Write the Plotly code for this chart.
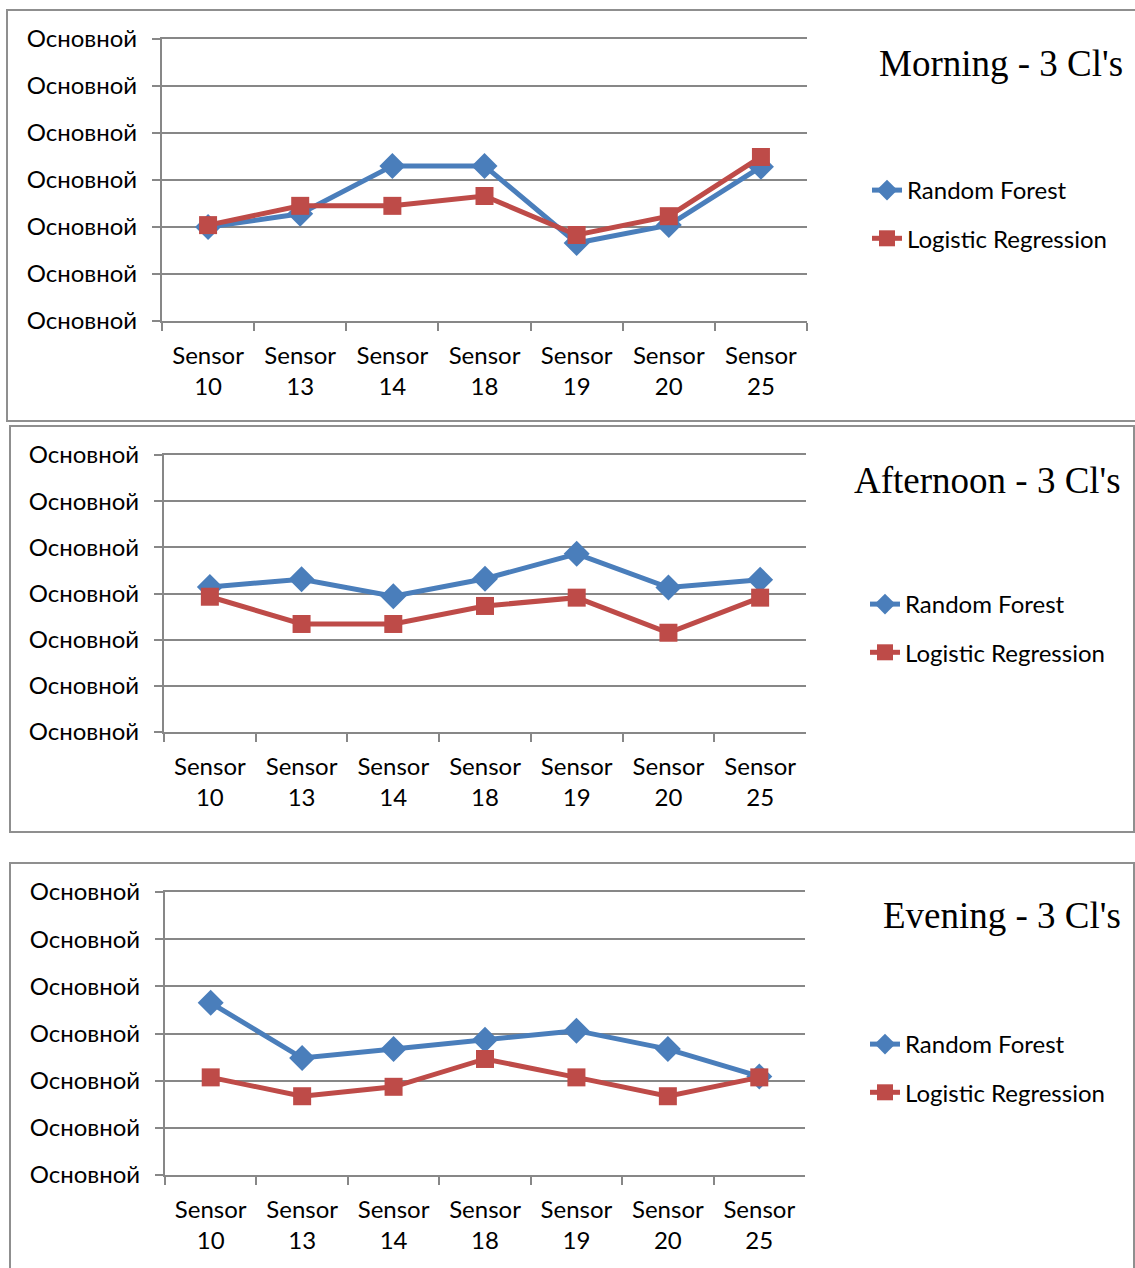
import plotly.graph_objects as go

W, H = 1135, 1268

categories = ["Sensor<br>10", "Sensor<br>13", "Sensor<br>14", "Sensor<br>18",
              "Sensor<br>19", "Sensor<br>20", "Sensor<br>25"]
y_tick_values = [0, 1, 2, 3, 4, 5, 6]
y_tick_labels = ["Основной"] * 7

morning_rf = [2.00, 2.28, 3.30, 3.30, 1.66, 2.04, 3.28]
morning_lr = [2.04, 2.45, 2.45, 2.66, 1.83, 2.23, 3.49]
afternoon_rf = [3.14, 3.31, 2.94, 3.32, 3.86, 3.13, 3.30]
afternoon_lr = [2.93, 2.34, 2.34, 2.73, 2.91, 2.15, 2.91]
evening_rf = [3.65, 2.48, 2.67, 2.87, 3.06, 2.67, 2.09]
evening_lr = [2.07, 1.67, 1.87, 2.46, 2.07, 1.67, 2.07]

titles = ["Morning - 3 Cl's", "Afternoon - 3 Cl's", "Evening - 3 Cl's"]
series_names = ["Random Forest", "Logistic Regression"]

BLUE = "#4A7EBB"
RED = "#BE4B48"
GRID = "#878787"
FONT = "Lato"


def px(x):
    return x / W


def py(y):
    return 1 - y / H


# plot-area pixel boxes (left, right, top, bottom)
plot_boxes = [(162, 807, 39, 321), (164, 806, 455, 732), (165, 805, 892, 1175)]
panel_boxes = [(7, 1145, 10, 421), (10, 1134, 426, 832), (10, 1134, 863, 1290)]
title_pos = [(1125, 63), (1123, 480), (1123, 916)]
legend_pos = [(867, 192), (865, 606), (865, 1046)]

data = [(morning_rf, morning_lr), (afternoon_rf, afternoon_lr), (evening_rf, evening_lr)]

fig = go.Figure()
layout = dict(
    width=W, height=H,
    margin=dict(l=0, r=0, t=0, b=0, autoexpand=False),
    paper_bgcolor="white", plot_bgcolor="white",
    font=dict(family=FONT, size=24, color="black"),
    shapes=[], annotations=[],
)

for i in range(3):
    n = "" if i == 0 else str(i + 1)
    leg = "legend" + n
    rf, lr = data[i]
    fig.add_trace(go.Scatter(
        x=categories, y=rf, name=series_names[0], mode="lines+markers",
        line=dict(color=BLUE, width=5), marker=dict(symbol="diamond", size=20, color=BLUE),
        xaxis="x" + n, yaxis="y" + n, legend=leg, legendgroup="rf" + n,
    ))
    fig.add_trace(go.Scatter(
        x=categories, y=lr, name=series_names[1], mode="lines+markers",
        line=dict(color=RED, width=5), marker=dict(symbol="square", size=18, color=RED),
        xaxis="x" + n, yaxis="y" + n, legend=leg, legendgroup="lr" + n,
    ))
    l, r, t, b = plot_boxes[i]
    layout["xaxis" + n] = dict(
        domain=[px(l), px(r)], anchor="y" + n, type="category", automargin=False,
        showline=True, linecolor=GRID, linewidth=2, mirror=True,
        ticks="outside", tickson="boundaries", ticklen=8, tickcolor=GRID, tickwidth=2,
        showgrid=False, tickfont=dict(family=FONT, size=24, color="black"),
        range=[-0.5, 6.5], fixedrange=True, ticklabelstandoff=12,
    )
    layout["yaxis" + n] = dict(
        domain=[py(b), py(t)], anchor="x" + n, range=[0, 6], automargin=False,
        tickvals=y_tick_values, ticktext=y_tick_labels,
        showline=True, linecolor=GRID, linewidth=2,
        ticks="outside", ticklen=8, tickcolor=GRID, tickwidth=2,
        showgrid=True, gridcolor=GRID, gridwidth=2, zeroline=False,
        tickfont=dict(family=FONT, size=24, color="black"),
        ticklabelstandoff=10, fixedrange=True,
    )
    lx, ly = legend_pos[i]
    layout[leg] = dict(
        x=px(lx), y=py(ly - 24), xanchor="left", yanchor="top",
        bgcolor="rgba(0,0,0,0)", font=dict(family=FONT, size=24, color="black"),
        tracegroupgap=14, traceorder="grouped",
    )
    x0, x1, y0, y1 = panel_boxes[i]
    layout["shapes"].append(dict(
        type="rect", xref="paper", yref="paper",
        x0=px(x0), x1=px(x1), y0=py(y1), y1=py(y0),
        line=dict(color="#8F8F8F", width=2), fillcolor="rgba(0,0,0,0)", layer="below",
    ))
    tx, ty = title_pos[i]
    layout["annotations"].append(dict(
        text=titles[i], xref="paper", yref="paper", x=px(tx), y=py(ty),
        xanchor="right", yanchor="middle", showarrow=False,
        font=dict(family="Liberation Serif", size=37, color="black"),
    ))

fig.update_layout(**layout)
fig.write_html("out.html")
